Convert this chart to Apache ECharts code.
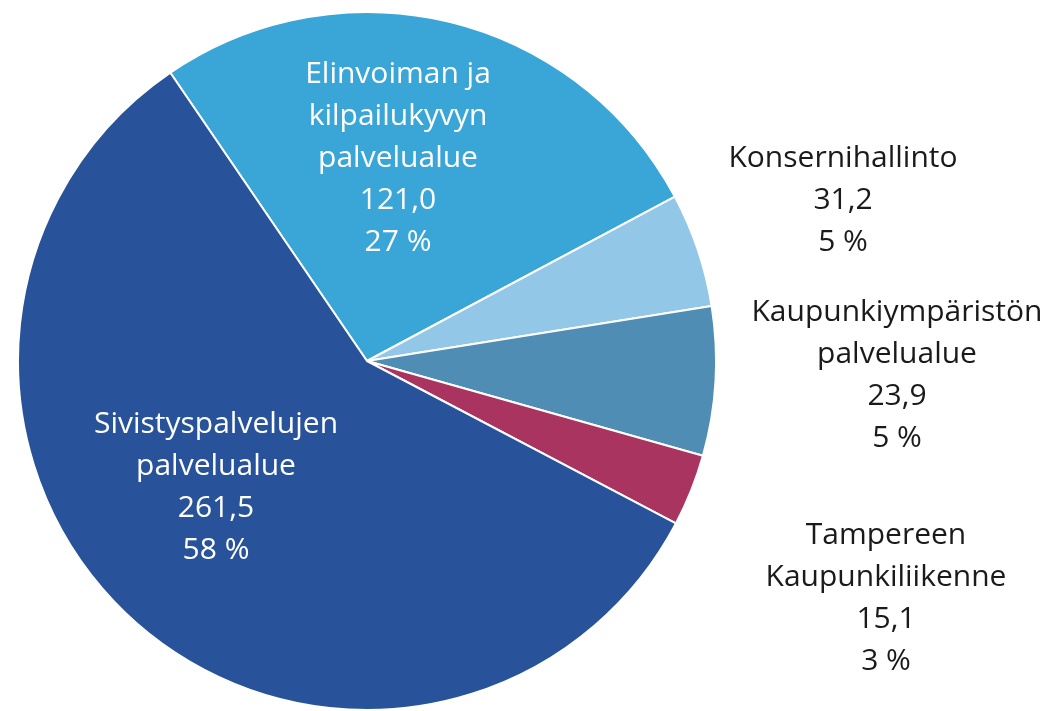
<!DOCTYPE html>
<html>
<head>
<meta charset="utf-8">
<script src="https://cdn.jsdelivr.net/npm/echarts@6/dist/echarts.min.js"></script>
<style>
  html, body { margin: 0; padding: 0; background: #ffffff; }
  #chart { width: 1049px; height: 711px; }
</style>
</head>
<body>
<div id="chart"></div>
<script>
// ---- data ----
const categories = [
  'Elinvoiman ja\nkilpailukyvyn\npalvelualue',
  'Kaupunkiympäristön\npalvelualue',
  'Konsernihallinto',
  'Tampereen\nKaupunkiliikenne',
  'Sivistyspalvelujen\npalvelualue'
];
const values = [121.0, 23.9, 31.2, 15.1, 261.5];
const shareLabels = ['27 %', '5 %', '5 %', '3 %', '58 %'];

// ---- styling ----
const colors = ['#3AA6D8', '#92C7E8', '#4F8DB4', '#A9345F', '#28539A'];
const labelColors = ['#ffffff', '#1a1a1a', '#1a1a1a', '#1a1a1a', '#ffffff'];
const labelPos = [[398, 158], [897, 375], [843, 200], [886, 598], [216, 487]];

const fmt = v => v.toFixed(1).replace('.', ',');

const chart = echarts.init(document.getElementById('chart'), null, { renderer: 'canvas' });
chart.setOption({
  animation: false,
  series: [{
    type: 'pie',
    center: [367, 361],
    radius: [0, 349],
    startAngle: 124.3,
    clockwise: true,
    avoidLabelOverlap: false,
    itemStyle: { borderColor: '#ffffff', borderWidth: 2 },
    label: {
      show: true,
      position: 'outside',
      fontFamily: 'Open Sans',
      fontSize: 30,
      lineHeight: 42,
      align: 'center',
      formatter: p => categories[p.dataIndex] + '\n' + fmt(values[p.dataIndex]) + '\n' + shareLabels[p.dataIndex]
    },
    labelLine: { show: false },
    labelLayout: p => ({
      x: labelPos[p.dataIndex][0],
      y: labelPos[p.dataIndex][1],
      align: 'center',
      verticalAlign: 'middle'
    }),
    emphasis: { disabled: true },
    data: values.map((v, i) => ({
      value: v,
      name: categories[i],
      itemStyle: { color: colors[i] },
      label: { color: labelColors[i] }
    }))
  }]
});
</script>
</body>
</html>
